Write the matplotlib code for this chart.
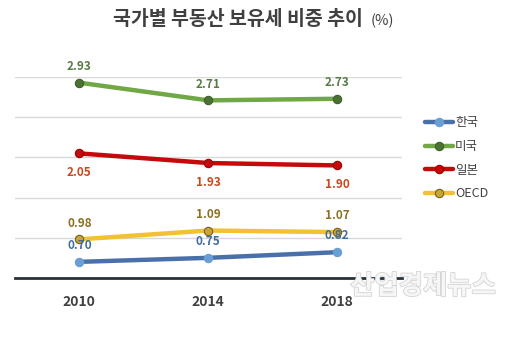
import matplotlib
matplotlib.use("Agg")
import matplotlib.pyplot as plt
import matplotlib.patheffects as pe

plt.rcParams['font.family'] = ['Noto Sans CJK KR', 'DejaVu Sans']

years = ['2010', '2014', '2018']
korea = [0.70, 0.75, 0.82]
usa = [2.93, 2.71, 2.73]
japan = [2.05, 1.93, 1.90]
oecd = [0.98, 1.09, 1.07]
series_names = ['한국', '미국', '일본', 'OECD']

fig = plt.figure(figsize=(5.32, 3.41), dpi=100)
ax = fig.add_axes([0.028, 0.185, 0.727, 0.589])
x = list(range(len(years)))

styles = [
    (korea, '#4a70aa', '#6a9fd4', '#6a9fd4', '#3f6d9e', 'above'),
    (usa, '#70a845', '#4a7232', '#3e6128', '#587a46', 'above'),
    (japan, '#c40a0a', '#c40a0a', '#a00000', '#c8481f', 'below'),
    (oecd, '#f2c232', '#c9a437', '#7a6015', '#8a7020', 'above'),
]
for (vals, lc, mfc, mec, tc, pos), name in zip(styles, series_names):
    ax.plot(x, vals, color=lc, lw=3.2, marker='o', ms=6, mfc=mfc, mec=mec,
            mew=0.8, label=name, solid_capstyle='round')
    for xi, v in zip(x, vals):
        if pos == 'above':
            ax.annotate(f'{v:.2f}', (xi, v), xytext=(0, 7), textcoords='offset points',
                        ha='center', va='bottom', fontsize=8.5, fontweight='bold', color=tc)
        else:
            ax.annotate(f'{v:.2f}', (xi, v), xytext=(0, -9), textcoords='offset points',
                        ha='center', va='top', fontsize=8.5, fontweight='bold', color=tc)

ax.set_xlim(-0.5, 2.5)
ax.set_ylim(0.5, 3.0)
ax.set_yticks([1.0, 1.5, 2.0, 2.5, 3.0])
ax.yaxis.grid(True, color='#d9d9d9', lw=1.0)
ax.set_axisbelow(True)
ax.tick_params(axis='y', left=False, labelleft=False)
ax.tick_params(axis='x', bottom=False, pad=9)
ax.set_xticks(x)
ax.set_xticklabels(years)
for lbl in ax.get_xticklabels():
    lbl.set_fontweight('bold')
    lbl.set_fontsize(10)
    lbl.set_color('#404040')
for s in ['top', 'right', 'left']:
    ax.spines[s].set_visible(False)
ax.spines['bottom'].set_color('#26323c')
ax.spines['bottom'].set_linewidth(2)

leg = ax.legend(loc='upper left', bbox_to_anchor=(1.03, 0.86), frameon=False,
                fontsize=9, handlelength=2.3, handletextpad=0.15, labelspacing=0.85,
                labelcolor='#404040')

fig.text(0.447, 0.944, '국가별 부동산 보유세 비중 추이', ha='center', va='center',
         fontsize=14, fontweight='bold', color='#404040')
fig.text(0.696, 0.938, '(%)', ha='left', va='center', fontsize=10.5, color='#404040')

fig.text(0.795, 0.16, '산업경제뉴스', ha='center', va='center', fontsize=19,
         fontweight='bold', color='#f6f6f6',
         path_effects=[pe.withStroke(linewidth=1.2, foreground='#d4d4d4')])

fig.savefig('out.png', dpi=100, facecolor='white')
